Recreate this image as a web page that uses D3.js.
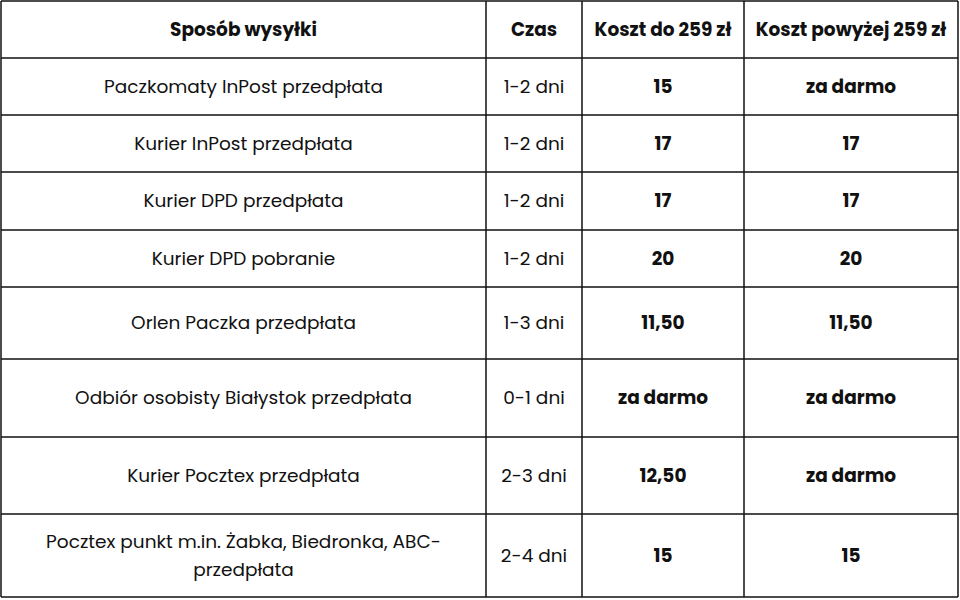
<!DOCTYPE html>
<html><head><meta charset="utf-8">
<script src="https://cdn.jsdelivr.net/npm/d3@7"></script>
<style>body{margin:0;background:#fff}</style>
</head><body><svg id="t" width="960" height="600"></svg>
<script>
const headers = ['Sposób wysyłki', 'Czas', 'Koszt do 259 zł', 'Koszt powyżej 259 zł']
const methods = ['Paczkomaty InPost przedpłata', 'Kurier InPost przedpłata', 'Kurier DPD przedpłata',
  'Kurier DPD pobranie', 'Orlen Paczka przedpłata', 'Odbiór osobisty Białystok przedpłata',
  'Kurier Pocztex przedpłata', ['Pocztex punkt m.in. Żabka, Biedronka, ABC-', 'przedpłata']]
const times = ['1-2 dni', '1-2 dni', '1-2 dni', '1-2 dni', '1-3 dni', '0-1 dni', '2-3 dni', '2-4 dni']
const costLow = ['15', '17', '17', '20', '11,50', 'za darmo', '12,50', '15']
const costHigh = ['za darmo', '17', '17', '20', '11,50', 'za darmo', 'za darmo', '15']

// layout
const colEdges = [1, 486, 582, 744, 958]
const rowEdges = [1, 58, 115, 172, 230, 287, 359, 437, 514, 597]
const font = 'Poppins, Inter, "Noto Sans", sans-serif'

const svg = d3.select('#t')
const g = svg.append('g')

const rows = [headers].concat(methods.map((m, i) => [m, times[i], costLow[i], costHigh[i]]))

rows.forEach((row, r) => {
  const y0 = rowEdges[r], y1 = rowEdges[r + 1], cy = (y0 + y1) / 2
  row.forEach((cell, c) => {
    const cx = (colEdges[c] + colEdges[c + 1]) / 2
    const bold = r === 0 || c >= 2
    const lines = Array.isArray(cell) ? cell : [cell]
    const t = g.append('text')
      .attr('x', cx).attr('text-anchor', 'middle')
      .attr('font-family', font)
      .attr('font-size', 18.5)
      .attr('font-weight', bold ? 700 : 400)
      .attr('fill', '#111')
    lines.forEach((ln, k) => {
      t.append('tspan').attr('x', cx)
        .attr('y', cy + (k - (lines.length - 1) / 2) * 28)
        .attr('dy', '0.35em').text(ln)
    })
  })
})

// grid lines
g.selectAll('line.h').data(rowEdges).join('line')
  .attr('x1', colEdges[0]).attr('x2', colEdges[4])
  .attr('y1', d => d).attr('y2', d => d)
  .attr('stroke', '#111').attr('stroke-width', 1.5)
g.selectAll('line.v').data(colEdges).join('line')
  .attr('y1', rowEdges[0]).attr('y2', rowEdges[rowEdges.length - 1])
  .attr('x1', d => d).attr('x2', d => d)
  .attr('stroke', '#111').attr('stroke-width', 1.5)
</script></body></html>
